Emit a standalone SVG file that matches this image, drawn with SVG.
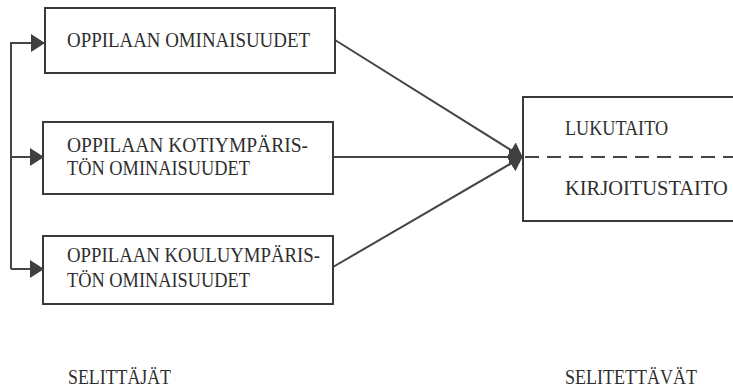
<svg xmlns="http://www.w3.org/2000/svg" width="733" height="387" viewBox="0 0 733 387">
  <style>
    .box { fill: #ffffff; stroke: #3a3a3a; stroke-width: 2; }
    .conn { fill: none; stroke: #454545; stroke-width: 2; }
    .dash { fill: none; stroke: #454545; stroke-width: 2; stroke-dasharray: 14 8; }
    .t { font-family: "Liberation Serif", "DejaVu Serif", "Times New Roman", serif; font-size: 22px; fill: #2e2e2e; }
    .lbl { font-family: "Liberation Serif", "DejaVu Serif", "Times New Roman", serif; font-size: 20px; fill: #2e2e2e; }
  </style>
  <defs>
    <marker id="head" viewBox="0 0 14 18" refX="13" refY="9" markerWidth="14" markerHeight="18" markerUnits="userSpaceOnUse" orient="auto">
      <path d="M0,0 L14,9 L0,18 Z" fill="#404040"/>
    </marker>
  </defs>
  <rect width="733" height="387" fill="#ffffff"/>

  <!-- connectors -->
  <g id="connectors">
    <path class="conn" d="M11,269 L11,43 L44,43" marker-end="url(#head)"/>
    <path class="conn" d="M11,157 L43,157" marker-end="url(#head)"/>
    <path class="conn" d="M11,269 L43,269" marker-end="url(#head)"/>
    <path class="conn" d="M335,40 L522,157" marker-end="url(#head)"/>
    <path class="conn" d="M333,157 L522,157" marker-end="url(#head)"/>
    <path class="conn" d="M333,267 L522,157" marker-end="url(#head)"/>
  </g>

  <g id="node-oppilaan-ominaisuudet">
    <rect class="box" x="45" y="8" width="290" height="65"/>
    <text class="t" x="67" y="47" textLength="243" lengthAdjust="spacingAndGlyphs">OPPILAAN OMINAISUUDET</text>
  </g>

  <g id="node-kotiymparisto">
    <rect class="box" x="43" y="122" width="290" height="72"/>
    <text class="t" x="67" y="152" textLength="241" lengthAdjust="spacingAndGlyphs">OPPILAAN KOTIYMPÄRIS-</text>
    <text class="t" x="67" y="175" textLength="183" lengthAdjust="spacingAndGlyphs">TÖN OMINAISUUDET</text>
  </g>

  <g id="node-kouluymparisto">
    <rect class="box" x="43" y="236" width="290" height="68"/>
    <text class="t" x="67" y="262" textLength="253" lengthAdjust="spacingAndGlyphs">OPPILAAN KOULUYMPÄRIS-</text>
    <text class="t" x="67" y="287" textLength="183" lengthAdjust="spacingAndGlyphs">TÖN OMINAISUUDET</text>
  </g>

  <g id="node-taidot">
    <path class="box" d="M734,97 L523,97 L523,221 L734,221"/>
    <path class="dash" d="M525,157 L733,157"/>
    <text class="t" x="565" y="135" textLength="103" lengthAdjust="spacingAndGlyphs">LUKUTAITO</text>
    <!-- narrow typewriter face: squeeze horizontally -->
    <text class="t" transform="translate(565,195) scale(0.93,1)">KIRJOITUSTAITO</text>
  </g>

  <g id="labels">
    <text class="lbl" x="68" y="384" textLength="103" lengthAdjust="spacingAndGlyphs">SELITTÄJÄT</text>
    <text class="lbl" x="565" y="384" textLength="132" lengthAdjust="spacingAndGlyphs">SELITETTÄVÄT</text>
  </g>
</svg>
